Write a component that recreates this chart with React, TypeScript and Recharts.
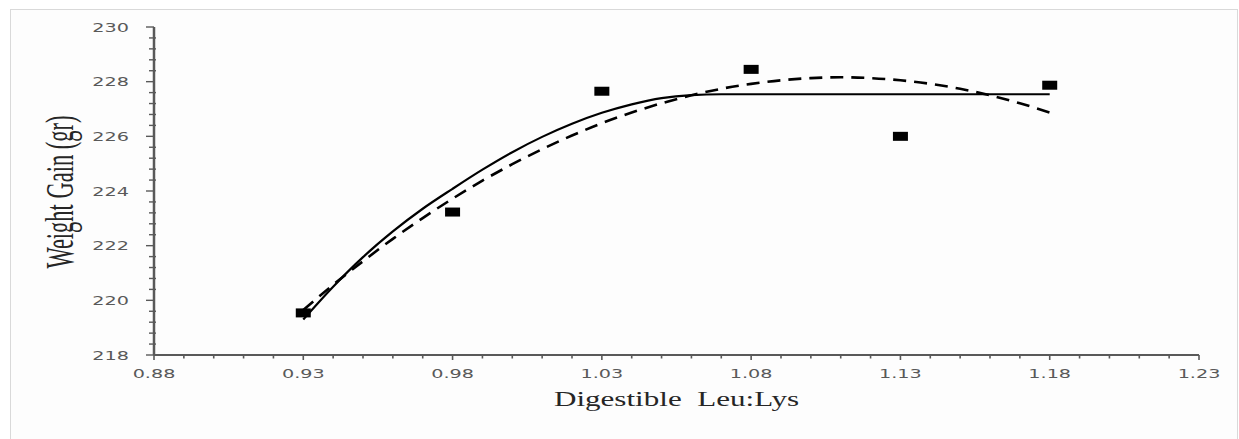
import { ComposedChart, Line, Scatter, XAxis, YAxis, Label } from 'recharts';

// observed weight gain (gr) per digestible Leu:Lys level
const obsX = [0.93, 0.98, 1.03, 1.08, 1.13, 1.18];
const obsY = [219.54, 223.23, 227.65, 228.45, 226.0, 227.87];

// solid line: quadratic-plateau fit
const plateauX = [0.93, 0.94, 0.95, 0.96, 0.97, 0.98, 0.99, 1.0, 1.01, 1.02, 1.03, 1.04, 1.05, 1.06, 1.07, 1.18];
const plateauY = [219.3, 220.5, 221.58, 222.52, 223.35, 224.08, 224.78, 225.42, 225.98, 226.46, 226.86, 227.17, 227.4, 227.51, 227.54, 227.54];

// dashed line: quadratic fit
const quadX = [0.93, 0.94, 0.95, 0.96, 0.97, 0.98, 0.99, 1.0, 1.01, 1.02, 1.03, 1.04, 1.05, 1.06, 1.07, 1.08, 1.09, 1.1, 1.11, 1.12, 1.13, 1.14, 1.15, 1.16, 1.17, 1.18];
const quadY = [219.65, 220.57, 221.43, 222.25, 223.01, 223.72, 224.38, 224.98, 225.53, 226.03, 226.48, 226.87, 227.21, 227.5, 227.74, 227.92, 228.05, 228.13, 228.16, 228.13, 228.05, 227.92, 227.74, 227.5, 227.21, 226.87];

const xMajorTicks = [0.88, 0.93, 0.98, 1.03, 1.08, 1.13, 1.18, 1.23];
const yMajorTicks = [218, 220, 222, 224, 226, 228, 230];

const AXIS = '#595959';
const TICK_TEXT = '#595959';
const SERIF = '"Liberation Serif", "DejaVu Serif", "Times New Roman", serif';

const observed = obsX.map((x, i) => ({ x, y: obsY[i] }));
const plateauFit = plateauX.map((x, i) => ({ x, y: plateauY[i] }));
const quadFit = quadX.map((x, i) => ({ x, y: quadY[i] }));

// 4 minor ticks between every pair of majors
function withMinors(majors: number[], parts: number) {
  const out: number[] = [];
  majors.forEach((m, i) => {
    out.push(m);
    const next = majors[i + 1];
    if (next === undefined) return;
    for (let k = 1; k < parts; k++) out.push(+(m + ((next - m) * k) / parts).toFixed(4));
  });
  return out;
}

const xTicks = withMinors(xMajorTicks, 5);
const yTicks = withMinors(yMajorTicks, 5);

const isMajor = (v: number, majors: number[]) => majors.some((m) => Math.abs(m - v) < 1e-6);

function XTick({ x, y, payload }: any) {
  const major = isMajor(payload.value, xMajorTicks);
  return (
    <g>
      <line x1={x} x2={x} y1={y} y2={y + (major ? 5 : 3.5)} stroke={AXIS} strokeWidth={1.6} />
      {major && (
        <text
          transform={`translate(${x},${y + 22.7}) scale(1.6,1)`}
          textAnchor="middle"
          style={{ fontFamily: '"DejaVu Sans", Verdana, sans-serif', fontSize: 12 }}
          fill={TICK_TEXT}
        >
          {payload.value.toFixed(2)}
        </text>
      )}
    </g>
  );
}

function YTick({ x, y, payload }: any) {
  const major = isMajor(payload.value, yMajorTicks);
  return (
    <g>
      <line
        x1={major ? x - 8 : x - 5}
        x2={major ? x : x + 2}
        y1={y}
        y2={y}
        stroke={AXIS}
        strokeWidth={1.4}
      />
      {major && (
        <text
          transform={`translate(${x - 25},${y + 4.5}) scale(1.6,1)`}
          textAnchor="end"
          style={{ fontFamily: '"DejaVu Sans", Verdana, sans-serif', fontSize: 12 }}
          fill={TICK_TEXT}
        >
          {payload.value}
        </text>
      )}
    </g>
  );
}

function Marker({ cx, cy }: any) {
  if (cx == null || cy == null) return null;
  return <rect x={cx - 7.5} y={cy - 4.5} width={15} height={9} fill="#000" />;
}

export default function App() {
  return (
    <div style={{ position: 'absolute', left: 0, top: 0, width: 1239, height: 439, background: '#fff', overflow: 'hidden' }}>
      <div
        style={{
          position: 'absolute',
          left: 10,
          top: 9,
          width: 1226,
          height: 460,
          border: '1px solid #d9d9d9',
          background: '#fdfdfd',
        }}
      />
      <div style={{ position: 'absolute', left: 0, top: 0 }}>
        <ComposedChart width={1239} height={439} margin={{ top: 27, right: 40, bottom: 0, left: 0 }}>
          <XAxis
            dataKey="x"
            type="number"
            domain={[0.88, 1.23]}
            ticks={xTicks}
            interval={0}
            tick={<XTick />}
            tickLine={false}
            tickSize={0}
            tickMargin={0}
            height={84}
            axisLine={{ stroke: AXIS, strokeWidth: 2 }}
            allowDataOverflow
          >
            <Label
              content={({ viewBox }: any) => (
                <text
                  transform={`translate(${viewBox.x + viewBox.width / 2},406) scale(1.48,1)`}
                  textAnchor="middle"
                  xmlSpace="preserve"
                  style={{ fontFamily: SERIF, fontSize: 21, whiteSpace: 'pre' }}
                  fill="#262626"
                >
                  {'Digestible  Leu:Lys'}
                </text>
              )}
            />
          </XAxis>
          <YAxis
            type="number"
            domain={[218, 230]}
            ticks={yTicks}
            interval={0}
            tick={<YTick />}
            tickLine={false}
            tickSize={0}
            tickMargin={0}
            width={154}
            axisLine={{ stroke: AXIS, strokeWidth: 2.5 }}
            allowDataOverflow
          >
            <Label
              content={({ viewBox }: any) => (
                <text
                  transform={`translate(73,${viewBox.y + viewBox.height / 2 + 1}) rotate(-90) scale(1,1.8)`}
                  textAnchor="middle"
                  style={{ fontFamily: SERIF, fontSize: 22.5 }}
                  fill="#262626"
                >
                  Weight Gain (gr)
                </text>
              )}
            />
          </YAxis>
          <Line
            data={plateauFit}
            dataKey="y"
            type="monotone"
            stroke="#000"
            strokeWidth={2.2}
            dot={false}
            isAnimationActive={false}
          />
          <Line
            data={quadFit}
            dataKey="y"
            type="monotone"
            stroke="#000"
            strokeWidth={2.6}
            strokeDasharray="13 8"
            dot={false}
            isAnimationActive={false}
          />
          <Scatter data={observed} dataKey="y" shape={<Marker />} isAnimationActive={false} />
        </ComposedChart>
      </div>
    </div>
  );
}
